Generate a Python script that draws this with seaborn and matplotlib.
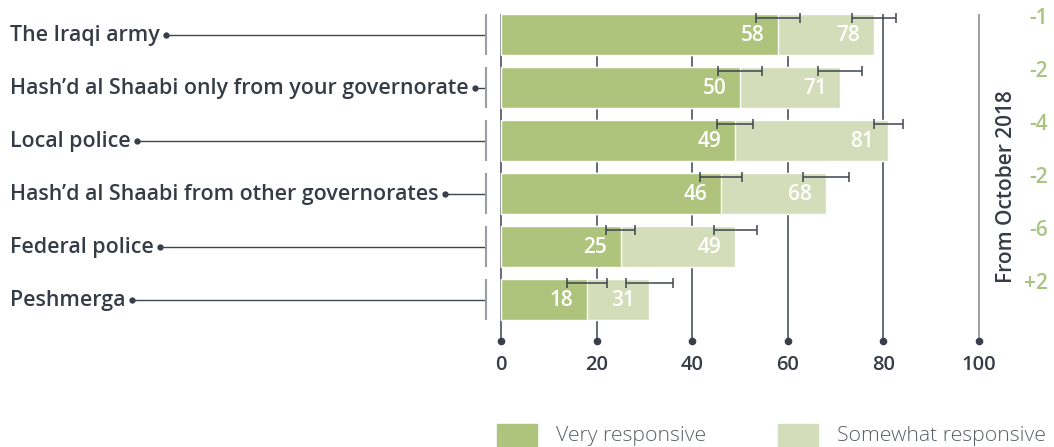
import numpy as np
import pandas as pd
import matplotlib.pyplot as plt
import seaborn as sns
from matplotlib.patches import Rectangle

# data
categories = ['The Iraqi army',
              'Hash\u2019d al Shaabi only from your governorate',
              'Local police',
              'Hash\u2019d al Shaabi from other governorates',
              'Federal police',
              'Peshmerga']
very = [58, 50, 49, 46, 25, 18]
somewhat = [78, 71, 81, 68, 49, 31]
very_err = [4.6, 4.6, 3.8, 4.4, 3.1, 4.2]
somewhat_err = [4.6, 4.6, 3.0, 4.9, 4.5, 4.9]
change = ['-1', '-2', '-4', '-2', '-6', '+2']
xticks = [0, 20, 40, 60, 80, 100]

dark = '#aec47c'
light = '#d3ddb9'
ink = '#363c46'
green_txt = '#a9c47f'

df = pd.DataFrame({'Category': categories, 'Very': very, 'Somewhat': somewhat})

sns.set_style('white')
plt.rcParams['font.family'] = ['Open Sans', 'DejaVu Sans']

fig = plt.figure(figsize=(10.54, 4.47), dpi=100)
ax = fig.add_axes([0, 0, 1, 1])

bw = 0.774
sns.barplot(data=df, x='Somewhat', y='Category', orient='h', color=light,
            saturation=1, width=bw, errorbar=None, ax=ax, zorder=2)
sns.barplot(data=df, x='Very', y='Category', orient='h', color=dark,
            saturation=1, width=bw, errorbar=None, ax=ax, zorder=3)

# map data space to the figure pixels
ppu = 4.78
ax.set_xlim(-501 / ppu, (1054 - 501) / ppu)
ax.set_ylim((447 - 34.5) / 53, -34.5 / 53)
ax.axis('off')

pos = np.arange(len(categories))
top = -bw / 2
dot_y = (341 - 34.5) / 53
lab_y = (370 - 34.5) / 53
base = (41 - 34.5) / 53

# grid lines ending with dots
for t in xticks:
    col = '#8c9097' if t == 100 else '#4a515c'
    ax.vlines(t, top, dot_y, color=col, lw=1.2, zorder=1)
    ax.plot(t, dot_y, 'o', color='#3a404a', ms=4.5, zorder=1, clip_on=False)
    ax.text(t, lab_y, str(t), ha='center', va='baseline', fontsize=14.5,
            fontweight='semibold', color=ink)

# error bars
off = -0.31
ax.errorbar(very, pos + off, xerr=very_err, fmt='none', ecolor='#3d4450',
            elinewidth=1.1, capsize=3.5, capthick=1.1, zorder=4)
ax.errorbar(somewhat, pos + off, xerr=somewhat_err, fmt='none', ecolor='#3d4450',
            elinewidth=1.1, capsize=3.5, capthick=1.1, zorder=4)

# value labels
for i in pos:
    ax.text(very[i] - 2.9, i + base, str(very[i]), ha='right', va='baseline',
            fontsize=15, fontweight='semibold', color='white', zorder=5)
    ax.text(somewhat[i] - 2.9, i + base, str(somewhat[i]), ha='right', va='baseline',
            fontsize=15, fontweight='semibold', color='white', zorder=5)

# category labels with leader lines
sep_x = (486 - 501) / ppu
labels = []
for i, c in enumerate(categories):
    labels.append(ax.text((10 - 501) / ppu, i + base, c, ha='left', va='baseline',
                          fontsize=15.4, fontweight='semibold', color=ink))
fig.canvas.draw()
inv = ax.transData.inverted()
for i, t in enumerate(labels):
    bb = t.get_window_extent()
    x_end = inv.transform((bb.x1 + 6, 0))[0]
    ax.plot(x_end, i, 'o', color=ink, ms=3.5)
    ax.hlines(i, x_end, sep_x, color='#3d4450', lw=1)
    ax.vlines(sep_x, i - bw / 2, i + bw / 2, color='#9a9ea4', lw=1.5)

# change column on the right
for i, ch in enumerate(change):
    ax.text((1048 - 501) / ppu, i + off, ch, ha='right', va='center',
            fontsize=15, fontweight='semibold', color=green_txt)
ax.text((1007 - 501) / ppu, (187 - 34.5) / 53, 'From October 2018', rotation=90,
        ha='center', va='center', fontsize=15, fontweight='semibold', color=ink)

# legend
leg_y = (424 - 34.5) / 53
for px, name, col in [(497, 'Very responsive', dark), (778, 'Somewhat responsive', light)]:
    ax.add_patch(Rectangle(((px - 501) / ppu, leg_y), 40 / ppu, 24 / 53,
                           color=col, clip_on=False))
    ax.text((px + 59 - 501) / ppu, (436 - 34.5) / 53, name, ha='left', va='center',
            fontsize=15.3, fontweight='light', color='#5a6068')

fig.savefig('out.png', dpi=100)
